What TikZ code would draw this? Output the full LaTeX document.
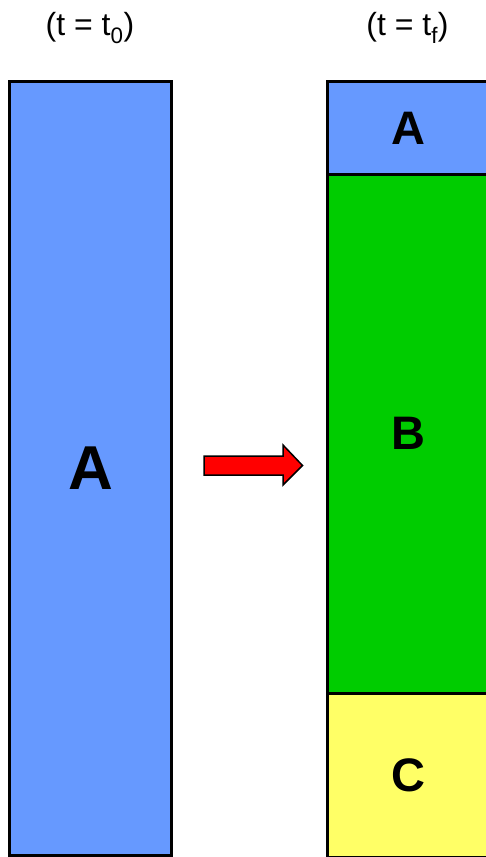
\documentclass[tikz,border=0pt]{standalone}
\usepackage{fontspec}
\setmainfont{Liberation Sans}
\usetikzlibrary{positioning}
\definecolor{blueA}{HTML}{6699FF}
\definecolor{greenB}{HTML}{00CC00}
\definecolor{yellowC}{HTML}{FFFF66}
\begin{document}
\begin{tikzpicture}[x=1pt,y=-1pt,line join=miter,
  seg/.style={draw,line width=3pt,inner sep=0pt,outer sep=0pt,
    minimum width=162pt,font=\fontsize{47}{47}\selectfont\bfseries},
  stamp/.style={font=\fontsize{32}{32}\selectfont}]
  \useasboundingbox (0,0) rectangle (486,857);
  % before
  \node[stamp] (t0) at (90,28) {(t = t\textsubscript{0})};
  \node[seg,fill=blueA,minimum height=773.5pt,
    font=\fontsize{62}{62}\selectfont\bfseries] (barA) at (90.5,468.25) {A};
  % after
  \node[stamp] (tf) at (407.5,28) {(t = t\textsubscript{f})};
  \node[seg,fill=blueA,minimum height=93pt] (segA) at (408.5,128) {A};
  \node[seg,fill=greenB,minimum height=518.5pt,below=0pt of segA] (segB) {B};
  \node[seg,fill=yellowC,minimum height=164pt,below=0pt of segB] (segC) {C};
  % arrow
  \draw[line width=1.5pt,fill=red] (204,456) -- (283,456) -- (283,445)
    -- (302.5,465.5) -- (283,485) -- (283,475) -- (204,475) -- cycle;
\end{tikzpicture}
\end{document}
